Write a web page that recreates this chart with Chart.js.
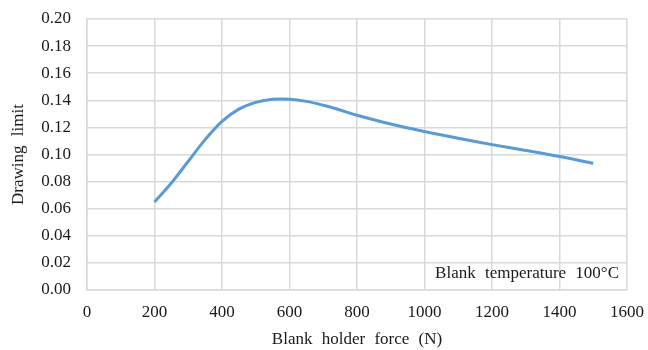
<!DOCTYPE html>
<html>
<head>
<meta charset="utf-8">
<script src="https://cdn.jsdelivr.net/npm/chart.js@4"></script>
<style>
html,body{margin:0;padding:0;background:#fff;}
#wrap{width:648px;height:350px;}
</style>
</head>
<body>
<div id="wrap"><canvas id="c" width="648" height="350"></canvas></div>
<script>
const forces = [200, 250, 300, 350, 400, 450, 500, 550, 600, 650, 700, 750, 800, 900, 1000, 1100, 1200, 1300, 1400, 1500];
const drawingLimit = [0.065, 0.079, 0.095, 0.111, 0.1245, 0.1335, 0.1385, 0.1408, 0.1408, 0.1392, 0.1363, 0.1328, 0.129, 0.1225, 0.117, 0.112, 0.1073, 0.103, 0.0985, 0.0935];
const seriesLabel = 'Blank temperature 100\u00B0C';
const xTitle = 'Blank holder force (N)';
const yTitle = 'Drawing limit';

const FONT = '"Liberation Serif", "Times New Roman", serif';
const spacing = {
  id: 'spacing',
  beforeDraw(chart) { chart.ctx.wordSpacing = '5px'; }
};
const annot = {
  id: 'annot',
  afterDatasetsDraw(chart) {
    const {ctx, chartArea} = chart;
    ctx.save();
    ctx.wordSpacing = '5px';
    ctx.font = '17px ' + FONT;
    ctx.fillStyle = '#1a1a1a';
    ctx.textAlign = 'right';
    ctx.textBaseline = 'middle';
    ctx.fillText(seriesLabel, chartArea.right - 8, chartArea.bottom - 16);
    ctx.restore();
  }
};

new Chart(document.getElementById('c'), {
  type: 'line',
  data: {
    datasets: [{
      label: seriesLabel,
      data: forces.map((f, i) => ({x: f, y: drawingLimit[i]})),
      borderColor: '#5b9bd5',
      borderWidth: 3,
      pointRadius: 0,
      tension: 0.35,
      fill: false
    }]
  },
  options: {
    responsive: false,
    animation: false,
    layout: {padding: {top: 19, right: 21, left: 0, bottom: 0}},
    plugins: {legend: {display: false}, tooltip: {enabled: false}},
    scales: {
      x: {
        type: 'linear', min: 0, max: 1600,
        ticks: {stepSize: 200, color: '#1a1a1a', font: {family: FONT, size: 17}, padding: 12, maxRotation: 0,
          callback: v => String(v)},
        grid: {color: '#d9d9d9', lineWidth: 1.5, drawTicks: false},
        border: {color: '#d9d9d9', width: 1.5},
        title: {display: true, text: xTitle, color: '#1a1a1a', font: {family: FONT, size: 17}, padding: {top: 9, bottom: 0}},
        afterFit(s) { s.height = 60; s.paddingLeft = 0; s.paddingRight = 0; }
      },
      y: {
        min: 0, max: 0.2,
        ticks: {stepSize: 0.02, color: '#1a1a1a', font: {family: FONT, size: 17}, padding: 16,
          callback: v => Number(v).toFixed(2)},
        grid: {color: '#d9d9d9', lineWidth: 1.5, drawTicks: false},
        border: {color: '#d9d9d9', width: 1.5},
        title: {display: true, text: yTitle, color: '#1a1a1a', font: {family: FONT, size: 17}, padding: {top: 8, bottom: 0}},
        afterFit(s) { s.width = 87; s.paddingTop = 0; s.paddingBottom = 0; }
      }
    }
  },
  plugins: [spacing, annot]
});
</script>
</body>
</html>
